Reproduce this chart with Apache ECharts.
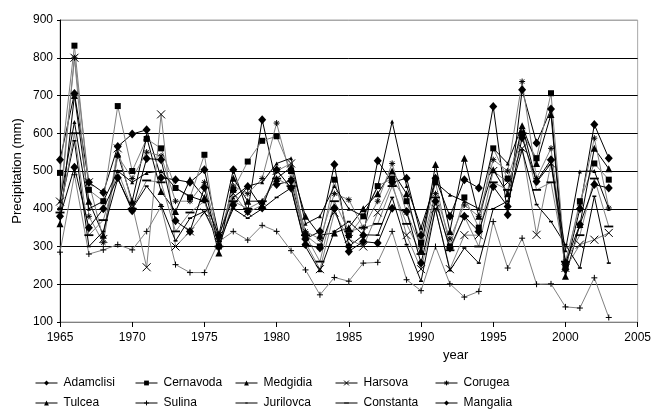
<!DOCTYPE html>
<html>
<head>
<meta charset="utf-8">
<script src="https://cdn.jsdelivr.net/npm/echarts@6/dist/echarts.min.js"></script>
<style>
  html, body { margin: 0; padding: 0; background: #fff; }
  #chart { width: 654px; height: 414px; }
</style>
</head>
<body>
<div id="chart"></div>
<script>
// Annual precipitation (mm) at Dobrogea stations, 1965-2003
const years = [];
for (let y = 1965; y <= 2003; y++) years.push(y);

const adamclisi = [530,705,470,443,565,598,609,482,477,470,503,330,503,393,636,464,474,320,340,517,300,330,527,470,481,330,481,380,477,455,671,384,715,574,664,240,400,623,534];
const cernavoda = [495,832,450,420,672,500,585,560,455,430,543,300,450,525,580,592,500,330,300,477,330,380,460,480,420,310,470,300,430,350,560,480,600,534,706,250,420,520,477];
const medgidia  = [360,700,420,330,545,420,590,446,393,477,430,283,481,420,420,480,510,380,330,336,350,400,440,500,440,290,517,340,534,380,503,440,620,520,650,221,358,560,506];
const harsova   = [419,800,470,320,560,410,245,650,300,340,390,330,440,390,410,500,520,310,240,390,320,300,390,470,330,240,400,240,330,330,500,470,560,331,520,243,305,318,336];
const corugea   = [400,800,380,310,540,480,550,540,420,420,470,320,460,440,480,627,480,340,320,440,424,350,420,520,390,300,440,320,410,380,530,500,737,480,560,260,410,587,402];
const tulcea    = [420,630,400,420,500,470,495,500,455,433,420,330,430,460,470,520,534,360,380,460,400,380,459,631,460,350,470,437,420,400,560,520,620,470,520,290,499,500,400];
const sulina    = [285,490,280,291,305,291,340,406,252,231,231,313,340,317,356,340,289,238,172,218,208,256,258,340,212,183,300,201,166,181,366,243,322,200,201,140,137,217,112];
const jurilovca = [400,580,300,340,480,400,460,410,315,375,393,313,400,375,400,430,455,300,234,340,366,331,330,430,305,208,400,236,296,256,400,420,556,411,366,305,243,433,256];
const constanta = [390,600,330,370,500,400,475,470,340,390,420,300,420,400,420,480,460,330,260,420,340,350,360,460,360,280,430,290,380,300,470,450,600,450,470,260,330,480,353];
const mangalia  = [380,510,350,400,482,395,533,530,368,340,456,300,410,459,402,503,455,305,296,402,287,313,309,401,393,256,420,296,380,340,459,406,588,472,530,256,358,464,455];

const stationNames = ['Adamclisi','Cernavoda','Medgidia','Harsova','Corugea','Tulcea','Sulina','Jurilovca','Constanta','Mangalia'];
const stationValues = [adamclisi,cernavoda,medgidia,harsova,corugea,tulcea,sulina,jurilovca,constanta,mangalia];

const BLACK = '#000000';
const GREY = '#808080';

// marker shapes and line tones per station
// (dash markers carry bare moveTo corners so their box stays square)
const markers = {
  Adamclisi: { symbol: 'diamond', size: [8, 9], line: BLACK },
  Cernavoda: { symbol: 'rect', size: 6, line: GREY },
  Medgidia:  { symbol: 'triangle', size: 7, line: BLACK },
  Harsova:   { symbol: 'path://M0,0L10,10M10,0L0,10', size: 8, line: GREY, stroke: true },
  Corugea:   { symbol: 'path://M5,0L5,10M0,5L10,5M1.5,1.5L8.5,8.5M8.5,1.5L1.5,8.5', size: 6, line: GREY, stroke: true },
  Tulcea:    { symbol: 'triangle', size: 4, line: BLACK },
  Sulina:    { symbol: 'path://M5,0L5,10M0,5L10,5', size: 6, line: GREY, stroke: true },
  Jurilovca: { symbol: 'path://M0,0M2.5,4L7.5,4L7.5,6L2.5,6ZM10,10', size: 8, line: BLACK },
  Constanta: { symbol: 'path://M0,0M0,4L10,4L10,6L0,6ZM10,10', size: 9, line: GREY },
  Mangalia:  { symbol: 'diamond', size: [8, 9], line: BLACK }
};

const series = stationNames.map((name, i) => {
  const m = markers[name];
  return {
    name: name,
    type: 'line',
    data: years.map((y, k) => [y, stationValues[i][k]]),
    symbol: m.symbol,
    symbolSize: m.size,
    showAllSymbol: true,
    lineStyle: { color: m.line, width: 1 },
    itemStyle: m.stroke
      ? { color: BLACK, borderColor: BLACK, borderWidth: 1 }
      : { color: BLACK, borderColor: BLACK, borderWidth: 0 },
    emphasis: { disabled: true },
    animation: false
  };
});

// one legend block per station, laid out on a fixed 5-column grid
const legendCols = [35, 135, 235, 335, 435];
const legendRows = [377, 397];
const legends = stationNames.map((name, i) => ({
  data: [name],
  left: legendCols[i % 5],
  top: legendRows[Math.floor(i / 5)],
  itemWidth: 22,
  itemHeight: 6,
  itemGap: 4,
  padding: 0,
  selectedMode: false,
  lineStyle: { color: BLACK, width: 1 },
  itemStyle: { color: BLACK, borderColor: BLACK, borderWidth: markers[name].stroke ? 1 : 0 },
  textStyle: { fontFamily: 'Liberation Sans, Arial, sans-serif', fontSize: 12, color: '#000', padding: [0, 0, 0, 1] }
}));

const chart = echarts.init(document.getElementById('chart'), null, { renderer: 'canvas' });
chart.setOption({
  animation: false,
  backgroundColor: '#fff',
  grid: {
    left: 60, right: 15, top: 20, bottom: 92,
    show: true, borderColor: '#a8a8a8', borderWidth: 1, backgroundColor: 'transparent'
  },
  legend: legends,
  xAxis: {
    type: 'value',
    min: 1965, max: 2005, interval: 5,
    axisLine: { show: true, lineStyle: { color: '#808080', width: 1 } },
    axisTick: { show: true, length: 5, lineStyle: { color: '#000' } },
    axisLabel: {
      margin: 10, fontFamily: 'Liberation Sans, Arial, sans-serif', fontSize: 12, color: '#000',
      formatter: v => String(v)
    },
    splitLine: { show: false }
  },
  yAxis: {
    type: 'value',
    min: 100, max: 900, interval: 100,
    axisLine: { show: true, lineStyle: { color: '#000', width: 1 } },
    axisTick: { show: true, length: 3, lineStyle: { color: '#000' } },
    axisLabel: { margin: 7, fontFamily: 'Liberation Sans, Arial, sans-serif', fontSize: 12, color: '#000' },
    splitLine: {
      show: true,
      lineStyle: { color: ['#000','#000','#000','#000','#000','#000','#000','#000','#a8a8a8'], width: 1 }
    }
  },
  graphic: [
    {
      type: 'text',
      left: 443, top: 349,
      style: { text: 'year', font: '13px "Liberation Sans", Arial, sans-serif', fill: '#000' }
    },
    {
      type: 'text',
      x: 17, y: 171,
      rotation: Math.PI / 2,
      style: {
        text: 'Precipitation (mm)', font: '13px "Liberation Sans", Arial, sans-serif', fill: '#000',
        align: 'center', verticalAlign: 'middle'
      }
    }
  ],
  series: series
});
</script>
</body>
</html>
